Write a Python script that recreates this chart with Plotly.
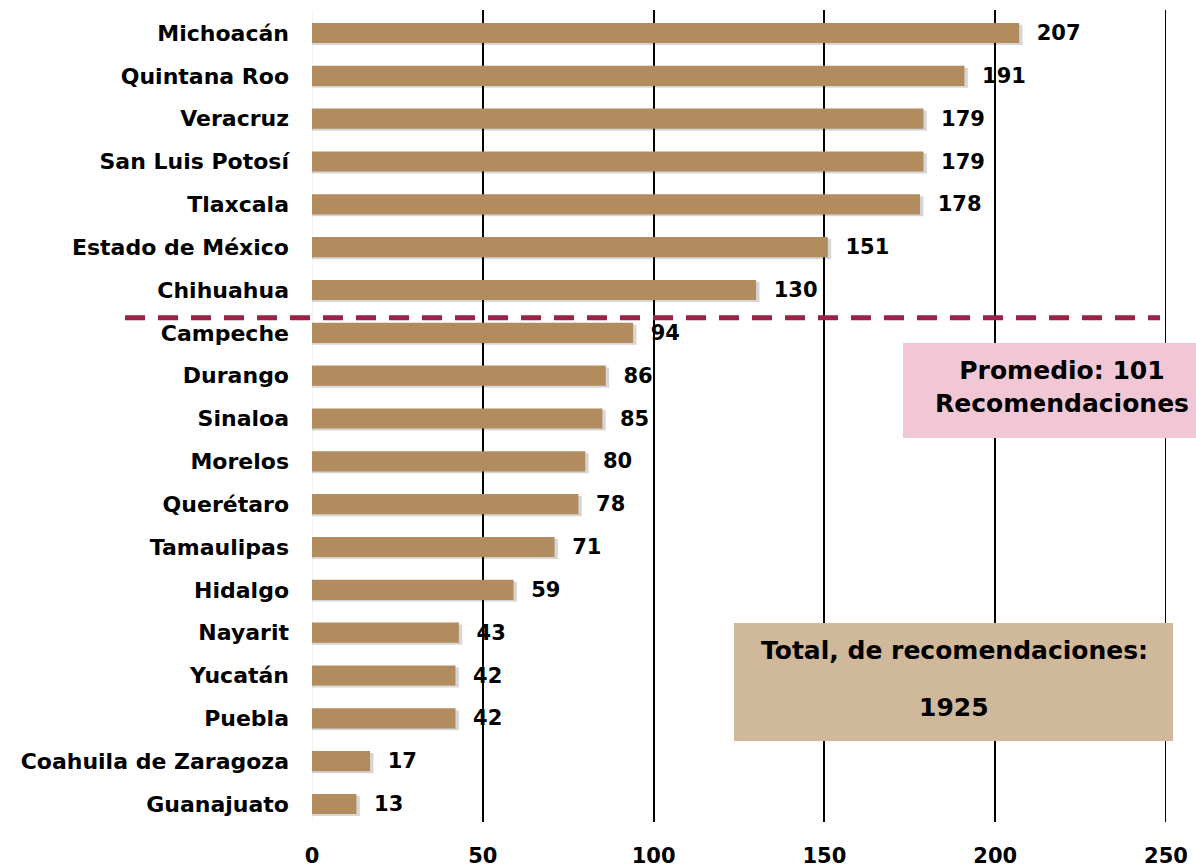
import plotly.graph_objects as go

states = ["Michoacán", "Quintana Roo", "Veracruz", "San Luis Potosí", "Tlaxcala",
          "Estado de México", "Chihuahua", "Campeche", "Durango", "Sinaloa", "Morelos",
          "Querétaro", "Tamaulipas", "Hidalgo", "Nayarit", "Yucatán", "Puebla",
          "Coahuila de Zaragoza", "Guanajuato"]
values = [207, 191, 179, 179, 178, 151, 130, 94, 86, 85, 80, 78, 71, 59, 43, 42, 42, 17, 13]
x_ticks = [0, 50, 100, 150, 200, 250]
average = 101
total = 1925

font_main = "DejaVu Sans"
n = len(states)

# plot area in page px: x 312..1166, y 10..822
W, H = 1196, 867
PL, PR, PT, PB = 312, 1166, 10, 822


def px(xp):
    return (xp - PL) / (PR - PL)


def py(yp):
    return (PB - yp) / (PB - PT)


fig = go.Figure()
fig.add_trace(go.Bar(
    y=states, x=[v + 1.0 for v in values], orientation="h",
    marker=dict(color="rgba(0,0,0,0.16)", line=dict(width=0)),
    width=0.47, offset=-0.19, hoverinfo="skip", showlegend=False,
))
fig.add_trace(go.Bar(
    y=states, x=values, orientation="h",
    marker=dict(color="#B28C5E", line=dict(width=0)),
    width=0.47, offset=-0.235,
    text=["\u00a0\u00a0" + str(v) for v in values], textposition="outside",
    constraintext="none",
    textfont=dict(family=font_main, size=21, color="black", weight="bold"),
    cliponaxis=False, showlegend=False,
))
fig.update_layout(
    barmode="overlay",
    width=W, height=H,
    margin=dict(l=PL, r=W - PR, t=PT, b=H - PB),
    plot_bgcolor="white", paper_bgcolor="white",
    xaxis=dict(range=[0, 250], tickvals=x_ticks, showgrid=True, gridcolor="black", gridwidth=2,
               zeroline=False, showline=False, ticks="", automargin=False,
               ticklabelstandoff=19,
               tickfont=dict(family=font_main, size=21, color="black", weight="bold")),
    yaxis=dict(autorange=False, range=[n - 1 + 0.42, -0.537], showgrid=False,
               ticks="", ticklabelstandoff=22, automargin=False,
               tickfont=dict(family=font_main, size=22, color="black", weight="bold")),
    font=dict(family=font_main),
)
fig.add_shape(type="line", xref="x", yref="y", x0=0, x1=0, y0=-0.537, y1=n - 1 + 0.42,
              line=dict(color="#E6E6E6", width=1), layer="below")
# gridline at the right edge of the range (x = 250)
fig.add_shape(type="line", xref="x", yref="paper", x0=x_ticks[-1], x1=x_ticks[-1], y0=0, y1=1,
              line=dict(color="black", width=2), layer="below")
fig.add_shape(type="line", xref="paper", yref="y", x0=px(125), x1=px(1160), y0=6.65, y1=6.65,
              line=dict(color="#9B2247", width=5, dash="20px,13px"))
# Promedio box
fig.add_shape(type="rect", xref="paper", yref="paper", x0=px(903), x1=px(1196),
              y0=py(438), y1=py(343), fillcolor="#F2C7D5", line=dict(width=0))
fig.add_annotation(xref="paper", yref="paper", x=px(1062), y=py(387),
                   text=f"Promedio: {average}<br>Recomendaciones", showarrow=False,
                   xanchor="center", yanchor="middle",
                   font=dict(family=font_main, size=25, color="black", weight="bold"))
# Total box
fig.add_shape(type="rect", xref="paper", yref="paper", x0=px(734), x1=px(1173),
              y0=py(741), y1=py(623), fillcolor="#D0B89B", line=dict(width=0))
fig.add_annotation(xref="paper", yref="paper", x=px(954), y=py(650),
                   text="Total, de recomendaciones:", showarrow=False,
                   xanchor="center", yanchor="middle",
                   font=dict(family=font_main, size=25, color="black", weight="bold"))
fig.add_annotation(xref="paper", yref="paper", x=px(954), y=py(707),
                   text=str(total), showarrow=False,
                   xanchor="center", yanchor="middle",
                   font=dict(family=font_main, size=25, color="black", weight="bold"))
fig.write_html("out.html", config={"displayModeBar": False},
               post_script="document.body.style.margin='0';document.body.style.overflow='hidden';")
